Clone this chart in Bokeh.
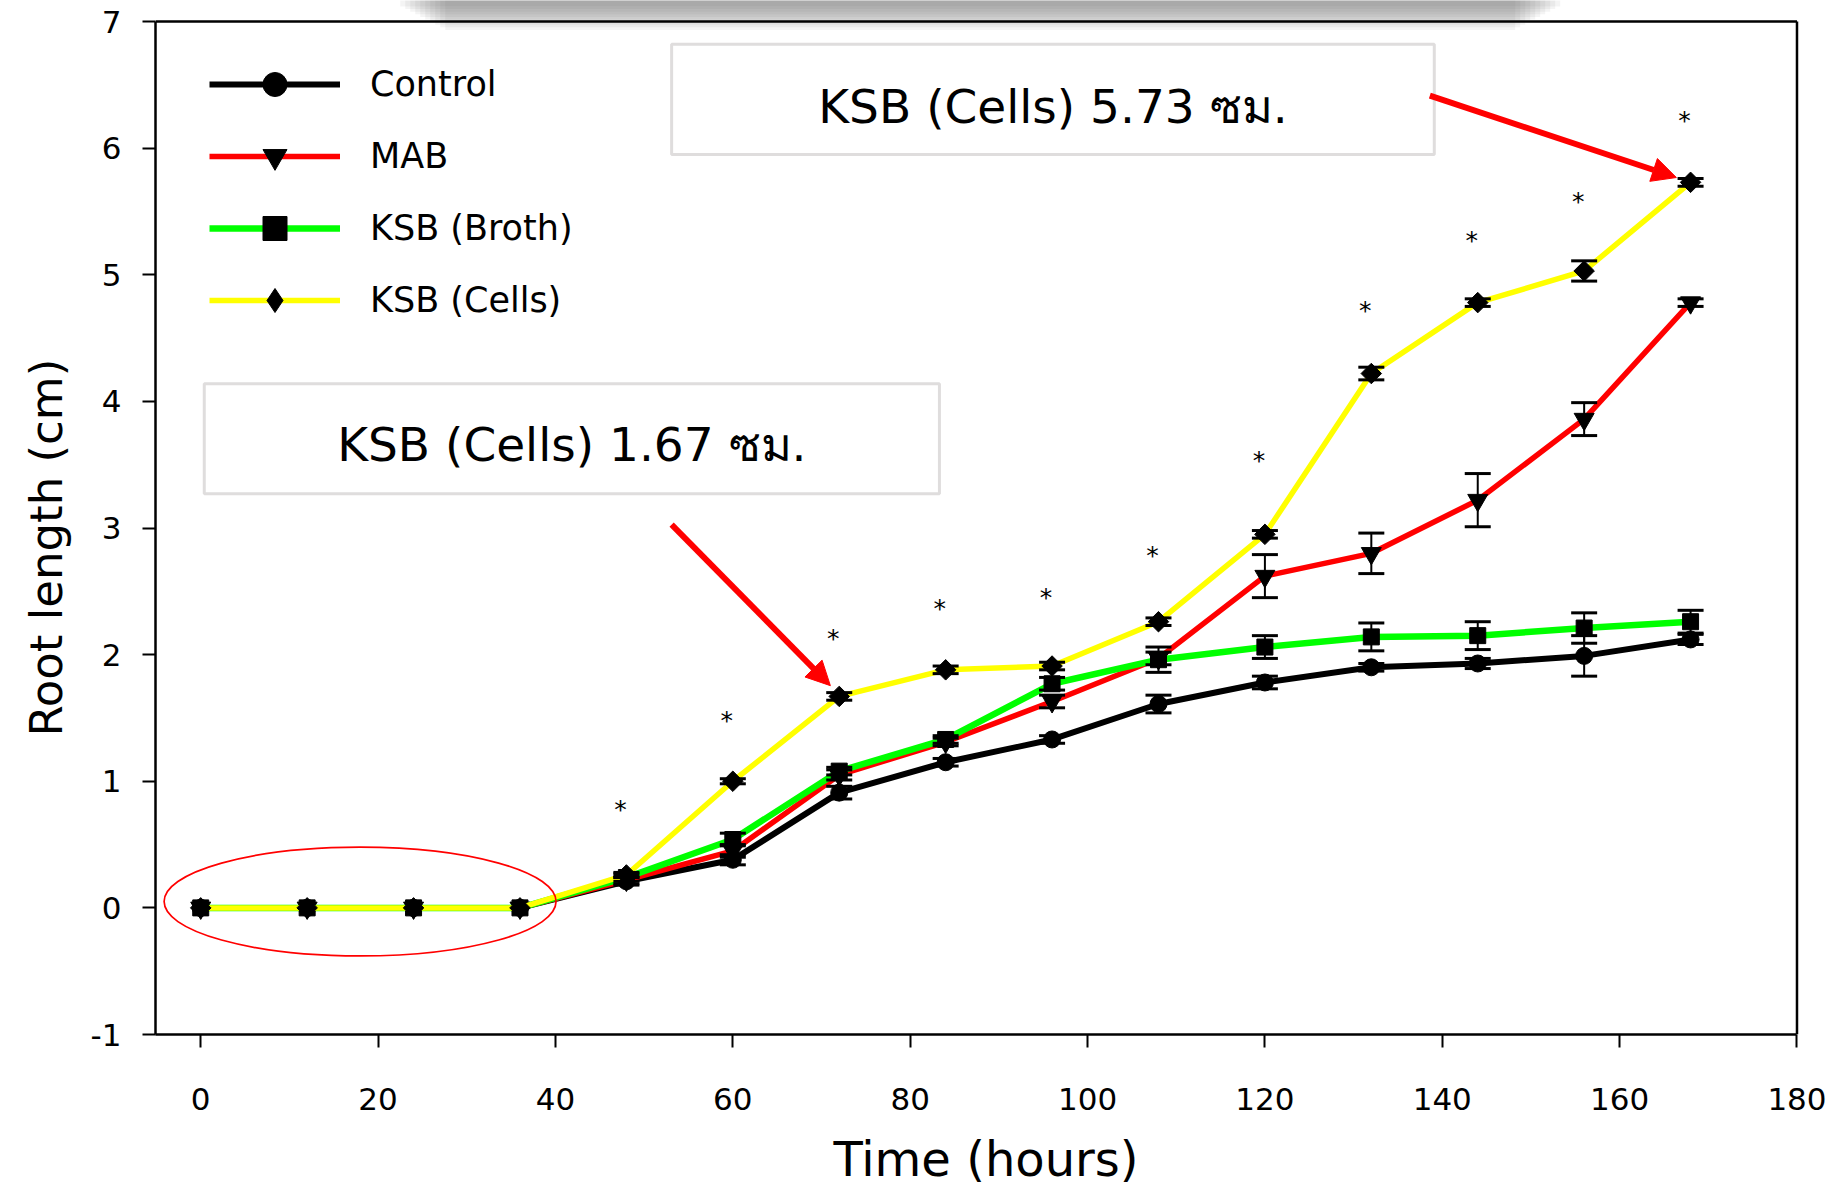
import math
from bokeh.plotting import figure
from bokeh.models import (ColumnDataSource, Whisker, TeeHead, Legend, LegendItem,
                          BoxAnnotation, Label, Arrow, NormalHead, Range1d, FixedTicker, Title)
from bokeh.core.properties import value
from bokeh.embed import file_html
from bokeh.resources import INLINE

# ---------------- data ----------------
time_h = [0, 12, 24, 36, 48, 60, 72, 84, 96, 108, 120, 132, 144, 156, 168]
control = [0, 0, 0, 0, 0.21, 0.38, 0.91, 1.15, 1.33, 1.61, 1.78, 1.90, 1.93, 1.99, 2.12]
control_err = [0, 0, 0, 0, 0.03, 0.04, 0.05, 0.03, 0.03, 0.07, 0.05, 0.03, 0.04, 0.16, 0.04]
mab = [0, 0, 0, 0, 0.22, 0.45, 1.05, 1.31, 1.63, 1.97, 2.62, 2.80, 3.22, 3.86, 4.78]
mab_err = [0, 0, 0, 0, 0.03, 0.05, 0.04, 0.03, 0.05, 0.05, 0.17, 0.16, 0.21, 0.13, 0.03]
broth = [0, 0, 0, 0, 0.24, 0.54, 1.08, 1.33, 1.77, 1.96, 2.06, 2.14, 2.15, 2.21, 2.26]
broth_err = [0, 0, 0, 0, 0.03, 0.05, 0.03, 0.03, 0.05, 0.10, 0.09, 0.11, 0.11, 0.12, 0.09]
cells = [0, 0, 0, 0, 0.26, 1.00, 1.67, 1.88, 1.91, 2.26, 2.95, 4.22, 4.78, 5.03, 5.73]
cells_err = [0, 0, 0, 0, 0.02, 0.02, 0.03, 0.03, 0.03, 0.03, 0.03, 0.05, 0.03, 0.08, 0.03]

sig_time = [48, 60, 72, 84, 96, 108, 120, 132, 144, 156, 168]
sig_y = [0.82, 1.52, 2.17, 2.40, 2.49, 2.82, 3.57, 4.76, 5.31, 5.62, 6.26]

series_names = ["Control", "MAB", "KSB (Broth)", "KSB (Cells)"]
x_ticks = [0, 20, 40, 60, 80, 100, 120, 140, 160, 180]
y_ticks = [-1, 0, 1, 2, 3, 4, 5, 6, 7]

note_top = "KSB (Cells) 5.73 ซม."
note_mid = "KSB (Cells) 1.67 ซม."
x_title = "Time (hours)"
y_title = "Root length (cm)"

# ---------------- styling / layout ----------------
FONT = "DejaVu Sans"
X_MIN, X_MAX = -5.1, 180
Y_MIN, Y_MAX = -1, 7

p = figure(width=1832, height=1190, output_backend="svg", toolbar_location=None,
           x_range=Range1d(X_MIN, 182.2), y_range=Range1d(Y_MIN, 7.166),
           min_border_left=155, min_border_right=16, min_border_top=0, min_border_bottom=156)
p.outline_line_color = None
p.xgrid.visible = False
p.ygrid.visible = False
p.background_fill_color = "white"
p.border_fill_color = "white"

for ax in (p.xaxis[0], p.yaxis[0]):
    ax.axis_line_width = 2.5
    ax.axis_line_color = "black"
    ax.major_tick_line_width = 2
    ax.major_tick_line_color = "black"
    ax.major_tick_out = 13
    ax.major_tick_in = 0
    ax.minor_tick_line_color = None
    ax.major_label_text_font = FONT
    ax.major_label_text_font_size = "31px"
    ax.major_label_text_color = "black"

p.xaxis[0].ticker = FixedTicker(ticks=x_ticks)
p.yaxis[0].ticker = FixedTicker(ticks=y_ticks)
p.yaxis[0].major_label_overrides = {t: str(t) for t in y_ticks}
p.xaxis[0].major_label_overrides = {t: str(t) for t in x_ticks}
p.xaxis[0].major_label_standoff = 40
p.yaxis[0].major_label_standoff = 21
p.yaxis[0].bounds = (Y_MIN, Y_MAX)
p.xaxis[0].bounds = (X_MIN, X_MAX)

# x title as the axis label
p.xaxis[0].axis_label = x_title
p.xaxis[0].axis_label_standoff = 18
p.xaxis[0].axis_label_text_font = FONT
p.xaxis[0].axis_label_text_font_size = "48px"
p.xaxis[0].axis_label_text_font_style = "normal"
p.xaxis[0].axis_label_text_color = "black"

# y title as a side title, shifted along the axis like the reference
p.add_layout(Title(text=y_title, align="left", offset=298, standoff=30,
                   text_font=FONT, text_font_size="45px", text_font_style="normal",
                   text_color="black"), "left")

# ---- gray shadow at top (decorative) ----
for i in range(10):
    depth = (6 + 2.6 * i) / 126.6
    inset = (5 * i) / 8.865
    p.quad(left=22.5 + inset, right=153.3 - inset, top=7.3, bottom=7.166 - depth,
           fill_color="#555555", fill_alpha=0.065, line_color=None)

# frame top & right border
p.segment(x0=[X_MIN, X_MAX], y0=[Y_MAX, Y_MIN], x1=[X_MAX, X_MAX], y1=[Y_MAX, Y_MAX],
          line_color="black", line_width=2.5)

# ---- series ----
specs = [
    (control, control_err, "black", 6, "circle", 17, 0, "circle", 17),
    (mab, mab_err, "#ff0000", 5.5, "inverted_triangle", 20, 0, "inverted_triangle", 20),
    (broth, broth_err, "#00ff00", 6.5, "square", 16, 0, "square", 16),
    (cells, cells_err, "#ffff00", 5.5, "square", 14.5, math.pi / 4, "diamond", 25),
]
items = []
for name, (vals, errs, col, lw, mk, sz, ang, lmk, lsz) in zip(series_names, specs):
    src = ColumnDataSource(dict(x=time_h, y=vals))
    ln = p.line("x", "y", source=src, line_color=col, line_width=lw)
    sc = p.scatter("x", "y", source=src, marker=mk, size=sz, angle=ang,
                   fill_color="black", line_color="black")
    ex = [t for t, e in zip(time_h, errs) if e > 0]
    lo = [v - e for v, e in zip(vals, errs) if e > 0]
    hi = [v + e for v, e in zip(vals, errs) if e > 0]
    wsrc = ColumnDataSource(dict(x=ex, lower=lo, upper=hi))
    w = Whisker(source=wsrc, base="x", lower="lower", upper="upper",
                line_color="black", line_width=2,
                upper_head=TeeHead(size=26, line_width=3, line_color="black"),
                lower_head=TeeHead(size=26, line_width=3, line_color="black"),
                level="annotation")
    p.add_layout(w)
    if ang:
        # legend-only marker (NaN position, not drawn in the plot) so the legend shows an upright diamond
        leg_sc = p.scatter(x=[float("nan")], y=[float("nan")], marker=lmk, size=lsz,
                           fill_color="black", line_color="black")
        items.append(LegendItem(label=name, renderers=[ln, leg_sc]))
    else:
        items.append(LegendItem(label=name, renderers=[ln, sc]))

legend = Legend(items=items, location="top_left", margin=54, padding=0, spacing=12,
                glyph_width=131, glyph_height=60, label_height=60, label_standoff=30,
                label_text_font=FONT, label_text_font_size="35px", label_text_color="black",
                border_line_color=None, background_fill_alpha=0)
p.add_layout(legend)

# significance asterisks
p.text(x=sig_time, y=sig_y, text=["*"] * len(sig_time), text_font=value(FONT),
       text_font_size="25px", text_align="center", text_baseline="alphabetic",
       y_offset=5, x_offset=-6, text_color="black")

# red ellipse around the zero points
p.ellipse(x=[17.97], y=[0.05], width=[44.2], height=[0.86], fill_color=None,
          line_color="#ff0000", line_width=1.7)

# annotation boxes
p.add_layout(BoxAnnotation(left=53.1, right=139.1, bottom=5.95, top=6.82,
                           fill_color="white", fill_alpha=1, line_color="#968f8f", line_width=3))
p.add_layout(BoxAnnotation(left=0.4, right=83.3, bottom=3.27, top=4.14,
                           fill_color="white", fill_alpha=1, line_color="#968f8f", line_width=3))
p.add_layout(Label(x=96.1, y=6.33, text=note_top, text_font=FONT, text_font_size="47px",
                   text_align="center", text_baseline="middle", text_color="black"))
p.add_layout(Label(x=41.85, y=3.66, text=note_mid, text_font=FONT, text_font_size="47px",
                   text_align="center", text_baseline="middle", text_color="black"))

# arrows
p.add_layout(Arrow(x_start=138.6, y_start=6.415, x_end=166.4, y_end=5.768,
                   line_color="#ff0000", line_width=6,
                   end=NormalHead(size=24, fill_color="#ff0000", line_color="#ff0000", line_width=1)))
p.add_layout(Arrow(x_start=53.1, y_start=3.027, x_end=71.0, y_end=1.755,
                   line_color="#ff0000", line_width=6,
                   end=NormalHead(size=24, fill_color="#ff0000", line_color="#ff0000", line_width=1)))

open("out.html", "w").write(file_html(p, INLINE))
